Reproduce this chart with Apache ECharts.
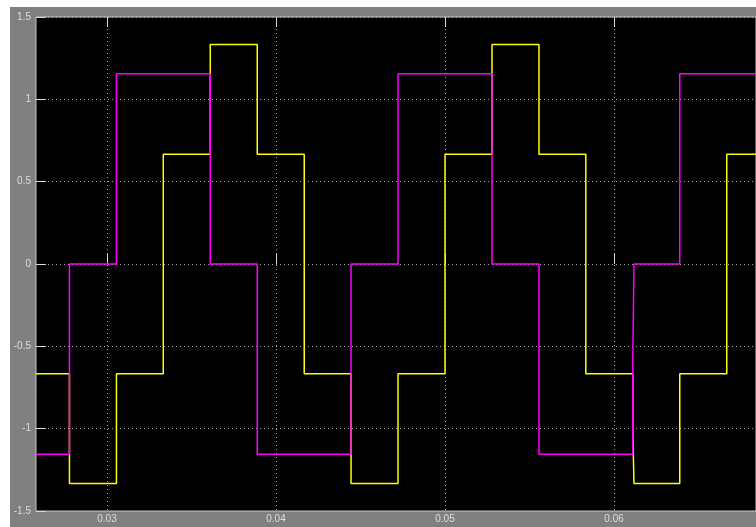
<!DOCTYPE html>
<html>
<head>
<meta charset="utf-8">
<script src="https://cdn.jsdelivr.net/npm/echarts@6/dist/echarts.min.js"></script>
<style>
  html, body { margin: 0; padding: 0; background: #fff; }
  #main { position: absolute; left: 10px; top: 7px; width: 746px; height: 520px; }
</style>
</head>
<body>
<div id="main"></div>
<script>
  // breakpoints (s), value holds until next one
  var times = [0.0258, 0.02778, 0.03056, 0.03333, 0.03611, 0.03889, 0.04167, 0.04444, 0.04722,
    0.05, 0.05278, 0.05556, 0.05833, 0.06111, 0.06118, 0.06389, 0.06667, 0.0684];
  var yellowVals = [-0.667, -1.333, -0.667, 0.667, 1.333, 0.667, -0.667, -1.333, -0.667,
    0.667, 1.333, 0.667, -0.667, -1.0, -1.333, -0.667, 0.667, 0.667];
  var magentaVals = [-1.155, 0, 1.155, 1.155, 0, -1.155, -1.155, 0, 1.155,
    1.155, 0, -1.155, -1.155, -0.583, 0, 1.155, 1.155, 1.155];
  var xTicks = [0.03, 0.04, 0.05, 0.06];
  var xMin = 0.0258, xMax = 0.0684;

  function pairs(vals) {
    return times.map(function (t, i) { return [t, vals[i]]; });
  }

  var chart = echarts.init(document.getElementById('main'));

  var labelStyle = {
    color: '#dcdcdc',
    fontSize: 10,
    fontFamily: 'Liberation Sans, Arial, sans-serif'
  };
  var tickStyle = { show: true, inside: true, length: 10, lineStyle: { color: '#d8d8d8', width: 1 } };
  var gridLine = { show: true, lineStyle: { color: '#a8a8a8', width: 1, type: [1, 3] } };

  var option = {
    animation: false,
    backgroundColor: '#808080',
    grid: {
      show: true,
      left: 26,
      top: 10,
      right: 0,
      bottom: 16,
      backgroundColor: '#000',
      borderColor: '#c4c4c4',
      borderWidth: 1
    },
    xAxis: [{
      type: 'value',
      min: xMin,
      max: xMax,
      axisLine: { show: false },
      axisTick: Object.assign({ customValues: xTicks }, tickStyle),
      axisLabel: Object.assign({ customValues: xTicks, margin: 3 }, labelStyle),
      splitLine: gridLine
    }, {
      type: 'value',
      position: 'top',
      min: xMin,
      max: xMax,
      axisLine: { show: false },
      axisTick: Object.assign({ customValues: xTicks }, tickStyle),
      axisLabel: { show: false },
      splitLine: { show: false }
    }],
    yAxis: {
      type: 'value',
      min: -1.5,
      max: 1.5,
      interval: 0.5,
      axisLine: { show: false },
      axisTick: tickStyle,
      axisLabel: Object.assign({ margin: 5 }, labelStyle),
      splitLine: gridLine
    },
    series: [{
      name: 'a',
      type: 'line',
      step: 'end',
      showSymbol: false,
      data: pairs(yellowVals),
      lineStyle: { color: '#ffff00', width: 1.5 },
      itemStyle: { color: '#ffff00' }
    }, {
      name: 'b',
      type: 'line',
      step: 'end',
      showSymbol: false,
      data: pairs(magentaVals),
      lineStyle: { color: '#ff00ff', width: 1.5 },
      itemStyle: { color: '#ff00ff' }
    }]
  };

  chart.setOption(option);
  window.addEventListener('resize', function () {
    chart.resize();
  });
</script>
</body>
</html>
